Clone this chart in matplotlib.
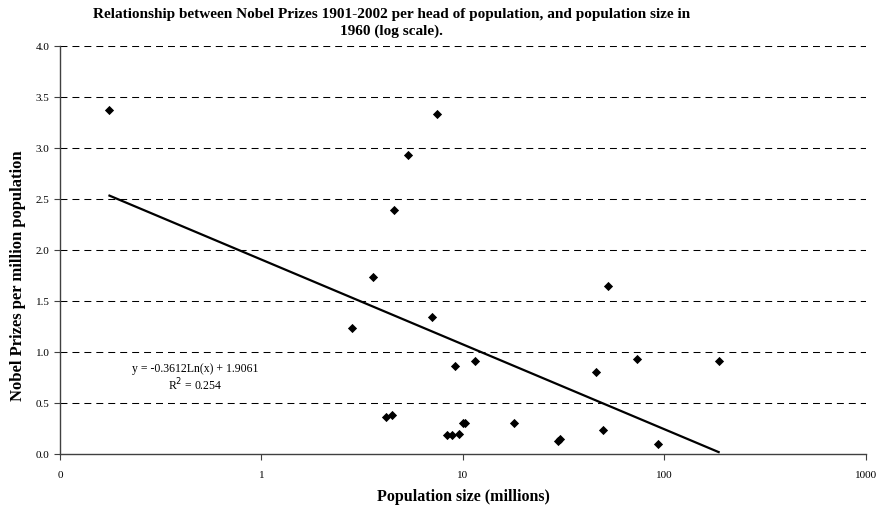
import matplotlib
matplotlib.use('Agg')
import matplotlib.pyplot as plt
import numpy as np

# Population in 1960 (millions) and Nobel prizes per million population
population = [0.176, 7.43, 5.32, 4.56, 3.56, 2.82, 7.04, 9.13, 11.47, 4.15,
              4.43, 9.97, 10.24, 8.3, 8.85, 9.55, 17.85, 29.5, 30.4, 45.6,
              52.2, 72.8, 185.8, 49.3, 92.9]
prizes_per_million = [3.37, 3.33, 2.93, 2.39, 1.74, 1.24, 1.34, 0.866, 0.915, 0.366,
                      0.385, 0.30, 0.30, 0.186, 0.186, 0.196, 0.307, 0.13, 0.147, 0.807,
                      1.644, 0.93, 0.912, 0.238, 0.095]

# logarithmic trendline as reported on the chart
trend_slope = -0.3612
trend_intercept = 1.9061
trend_r2 = 0.254

x_ticks = [0.1, 1, 10, 100, 1000]
x_tick_labels = ['0', '1', '10', '100', '1000']
y_ticks = [0.0, 0.5, 1.0, 1.5, 2.0, 2.5, 3.0, 3.5, 4.0]

plt.rcParams['font.family'] = ['Liberation Serif', 'DejaVu Serif']
plt.rcParams['lines.scale_dashes'] = False

fig = plt.figure(figsize=(8.76, 5.09), dpi=100)
ax = fig.add_axes([0.0685, 0.108, 0.92, 0.8015])

ax.set_xscale('log')
ax.set_xlim(0.1, 1000)
ax.set_ylim(0, 4.0)

for y in y_ticks[1:]:
    ax.axhline(y, color='black', lw=0.75, dashes=(5, 3.6), zorder=1)

x_pop = np.array(population)
trend_x = np.array([x_pop.min(), x_pop.max()])
trend_y = trend_slope * np.log(trend_x) + trend_intercept
ax.plot(trend_x, trend_y, color='black', lw=1.6, zorder=2)

ax.scatter(population, prizes_per_million, marker='D', s=22, color='black',
           linewidths=0, zorder=3)

ax.set_xticks(x_ticks)
ax.set_xticklabels(x_tick_labels, fontsize=8)
ax.xaxis.set_minor_locator(matplotlib.ticker.NullLocator())
ax.set_yticks(y_ticks)
ax.set_yticklabels([f'{v:.1f}' for v in y_ticks], fontsize=8)
ax.tick_params(axis='both', direction='out', length=4, width=0.8, color='#404040')
ax.tick_params(axis='x', pad=8)

for side in ['top', 'right']:
    ax.spines[side].set_visible(False)
for side in ['left', 'bottom']:
    ax.spines[side].set_color('#404040')
    ax.spines[side].set_linewidth(1.0)

ax.text(0.47, 0.833, 'y = -0.3612Ln(x) + 1.9061', fontsize=8.5, ha='center', va='center')
ax.text(0.47, 0.676, f'R$^2$ = {trend_r2}', fontsize=8.5, ha='center', va='center')

fig.text(0.447, 0.985,
         'Relationship between Nobel Prizes 1901-2002 per head of population, and population size in\n1960 (log scale).',
         ha='center', va='top', fontsize=11, fontweight='bold', multialignment='center',
         linespacing=1.35)

ax.set_xlabel('Population size (millions)', fontsize=11.5, fontweight='bold', va='center')
ax.xaxis.set_label_coords(0.5, -0.105)
ax.set_ylabel('Nobel Prizes per million population', fontsize=12, fontweight='bold', va='center')
ax.yaxis.set_label_coords(-0.052, 0.436)

fig.savefig('out.png', dpi=100)
plt.close('all')
